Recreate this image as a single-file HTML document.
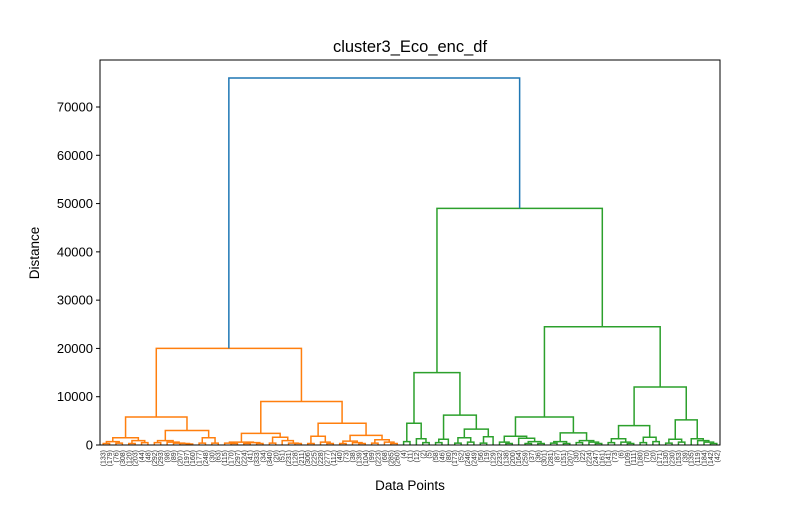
<!DOCTYPE html>
<html><head><meta charset="utf-8"><style>
body{margin:0;background:#fff;}
svg{font-family:"Liberation Sans","DejaVu Sans",sans-serif;}
</style></head><body>
<svg id="chart" width="800" height="500" viewBox="0 0 800 500" xmlns="http://www.w3.org/2000/svg">
<rect x="0" y="0" width="800" height="500" fill="#fff"/>
<text x="410" y="52" font-size="16.5" text-anchor="middle">cluster3_Eco_enc_df</text>
<text x="410" y="490" font-size="13.5" text-anchor="middle">Data Points</text>
<text x="39" y="253" font-size="13.5" text-anchor="middle" transform="rotate(-90 39 253)">Distance</text>
<g id="links"></g>
<g id="axes"></g>
</svg>
<script>
const yTicks = [0,10000,20000,30000,40000,50000,60000,70000];
const yTickLabels = ["0","10000","20000","30000","40000","50000","60000","70000"];
const orangeTree = [20000,
  [5800,
    [1500,[700,[300,"133","179"],[400,"76","308"]],[900,[300,"120","203"],[500,"44","48"]]],
    [3000,[900,[500,"292","293"],[600,"98",[400,"89",[300,"207",[200,"197","160"]]]]],[1500,[400,"177","248"],[400,"30","63"]]]],
  [9000,
    [2400,[600,[400,"115",[300,"170","297"]],[500,[300,"224","41"],[300,"333","34"]]],[1600,[400,"340","20"],[900,"51",[400,"231",[300,"128","211"]]]]],
    [4500,[1800,[300,"306","225"],[600,"228",[300,"277","112"]]],
      [2000,[800,[300,"40","73"],[500,"38",[300,"139","104"]]],[1100,[400,"99","223"],[600,"68",[300,"285","260"]]]]]]];
const greenTree = [49000,
  [15000,[4500,[700,"4","11"],[1300,"12",[500,"2","5"]]],
    [6200,[1200,[500,"58","46"],"80"],[3300,[1500,[400,"173","52"],[600,"246","249"]],[1700,[400,"56","19"],"129"]]]],
  [24500,
    [5800,[1800,[600,"232",[300,"138","200"]],[1400,"164",[700,[300,"259","37"],[300,"36","301"]]]],
      [2500,[700,[400,"281","87"],[300,"151","207"]],[900,[500,"30","22"],[600,"224",[300,"247","161"]]]]],
    [12000,[4000,[1300,[500,"141","73"],[600,"6",[300,"109","111"]]],[1600,[500,"180","70"],[700,"20","171"]]],
      [5200,[1200,[400,"130","230"],[600,"153","39"]],[1300,"135",[900,"119",[600,"184",[300,"142","42"]]]]]]]];
const rootHeight = 76000;

const NS="http://www.w3.org/2000/svg";
const X0=100,X1=720,Y0=445,YT=60;
const yScale=v=>Y0-v*(445-107)/70000;
function countLeaves(n){return typeof n==="string"?1:countLeaves(n[1])+countLeaves(n[2]);}
const nLeaves=countLeaves(orangeTree)+countLeaves(greenTree);
const xScale=i=>X0+(i+0.5)*(X1-X0)/nLeaves;
const links=document.getElementById('links');
const axes=document.getElementById('axes');
let leafIdx=0;
function line(x1,y1,x2,y2,col,g){const l=document.createElementNS(NS,'line');
l.setAttribute('x1',x1);l.setAttribute('y1',y1);l.setAttribute('x2',x2);l.setAttribute('y2',y2);
l.setAttribute('stroke',col);l.setAttribute('stroke-width',1.5);


g.appendChild(l);return l;}
function layout(n,col){
  if(typeof n==="string"){const x=xScale(leafIdx++);
    const t=document.createElementNS(NS,'text');
    t.setAttribute('x',x+2.5);t.setAttribute('y',450);t.setAttribute('font-size','7');
    t.setAttribute('text-anchor','end');t.setAttribute('fill','#333');
    t.setAttribute('transform','rotate(-90 '+(x+2.5)+' 450)');
    t.textContent='('+n+')';
    
    
    axes.appendChild(t);
    return {x:x,h:0};}
  const a=layout(n[1],col),b=layout(n[2],col);
  const y=yScale(n[0]);
  const p=document.createElementNS(NS,'polyline');
  p.setAttribute('points',a.x+','+yScale(a.h)+' '+a.x+','+y+' '+b.x+','+y+' '+b.x+','+yScale(b.h));
  p.setAttribute('fill','none');p.setAttribute('stroke',col);p.setAttribute('stroke-width',1.5);
  
  
  links.appendChild(p);
  return {x:(a.x+b.x)/2,h:n[0]};
}
const o=layout(orangeTree,'#ff7f0e');
const g=layout(greenTree,'#2ca02c');
const ry=yScale(rootHeight);
const rp=document.createElementNS(NS,'polyline');
rp.setAttribute('points',o.x+','+yScale(o.h)+' '+o.x+','+ry+' '+g.x+','+ry+' '+g.x+','+yScale(g.h));
rp.setAttribute('fill','none');rp.setAttribute('stroke','#1f77b4');rp.setAttribute('stroke-width',1.5);


links.appendChild(rp);
const fr=document.createElementNS(NS,'rect');
fr.setAttribute('x',X0);fr.setAttribute('y',YT);fr.setAttribute('width',X1-X0);fr.setAttribute('height',Y0-YT);
fr.setAttribute('fill','none');fr.setAttribute('stroke','#000');fr.setAttribute('stroke-width',1);


axes.appendChild(fr);
yTicks.forEach((v,i)=>{const y=yScale(v);
  const tk=line(X0-4,y,X0,y,'#000',axes);tk.setAttribute('stroke-width',1);
  
  const t=document.createElementNS(NS,'text');
  t.setAttribute('x',X0-7);t.setAttribute('y',y+4.5);t.setAttribute('font-size','13');t.setAttribute('text-anchor','end');
  t.textContent=yTickLabels[i];
  
  
  axes.appendChild(t);});
</script>
</body></html>
